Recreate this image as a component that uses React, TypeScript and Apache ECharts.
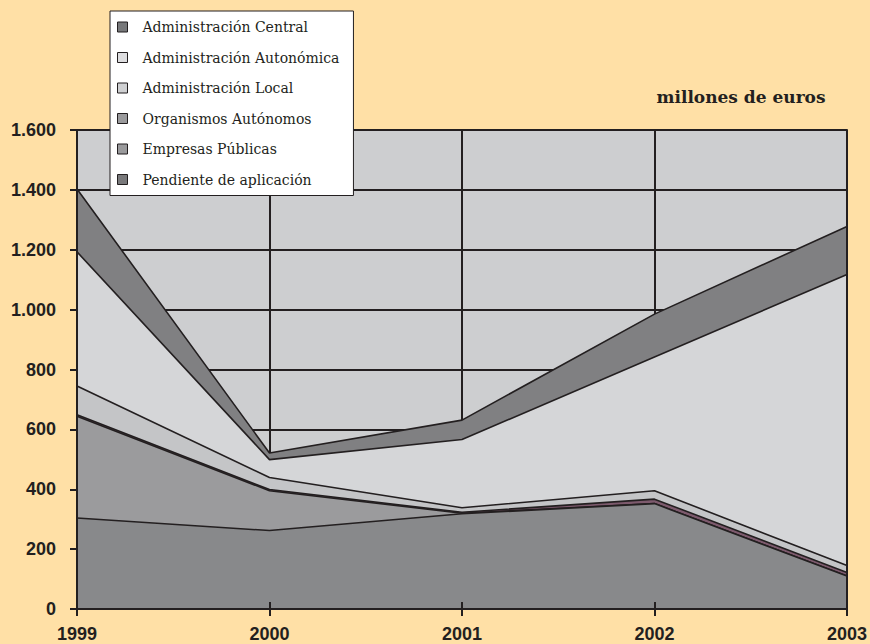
import React, { useEffect, useRef } from "react";
import * as echarts from "echarts";

const years = ["1999", "2000", "2001", "2002", "2003"];
const yTicks = [0, 200, 400, 600, 800, 1000, 1200, 1400, 1600];

// Stack order bottom -> top
const central = [304, 262, 318, 352, 110];
const organismos = [340, 133, 2, 0, 0];
const empresas = [5, 4, 3, 15, 12];
const local = [96, 40, 15, 28, 23];
const autonomica = [448, 60, 228, 447, 972];
const pendiente = [210, 22, 65, 143, 161];

const legendNames = [
  "Administración Central",
  "Administración Autonómica",
  "Administración Local",
  "Organismos Autónomos",
  "Empresas Públicas",
  "Pendiente de aplicación",
];
const legendColors = ["#77787a", "#dddddf", "#cfd0d2", "#9a9a9c", "#9a9a9c", "#79797b"];

const INK = "#231f20";
const BG = "#ffe0a6";

function fmt(v: number): string {
  const s = String(Math.round(v));
  return s.length > 3 ? s.slice(0, s.length - 3) + "." + s.slice(-3) : s;
}

export default function App() {
  const ref = useRef<HTMLDivElement>(null);
  useEffect(() => {
    if (!ref.current) return;
    const chart = echarts.init(ref.current, undefined, { renderer: "svg" });
    const layers = [
      { name: "Administración Central", data: central, color: "#88898b" },
      { name: "Organismos Autónomos", data: organismos, color: "#9b9b9d" },
      { name: "Empresas Públicas", data: empresas, color: "#7d5a6d" },
      { name: "Administración Local", data: local, color: "#c4c5c7" },
      { name: "Administración Autonómica", data: autonomica, color: "#d5d6d8" },
      { name: "Pendiente de aplicación", data: pendiente, color: "#808082" },
    ];
    const axisLabelStyle = {
      color: INK,
      fontFamily: "Liberation Sans, Arial, sans-serif",
      fontWeight: "bold" as const,
      fontSize: 18,
    };
    chart.setOption({
      animation: false,
      backgroundColor: BG,
      grid: {
        left: 77,
        top: 130,
        right: 21,
        bottom: 35,
        show: true,
        backgroundColor: "#cdced0",
        borderWidth: 0,
      },
      legend: {
        show: true,
        orient: "vertical",
        left: 110,
        top: 11,
        z: 30,
        icon: "rect",
        itemWidth: 10,
        itemHeight: 10,
        itemGap: 14.5,
        padding: [8, 14, 8, 7],
        backgroundColor: "#ffffff",
        borderColor: INK,
        borderWidth: 1,
        borderRadius: 0,
        selectedMode: false,
        textStyle: {
          color: INK,
          fontFamily: "DejaVu Serif, serif",
          fontSize: 14,
          lineHeight: 16,
          padding: [0, 0, 0, 10],
        },
        data: legendNames.map((n, i) => ({
          name: n,
          itemStyle: { color: legendColors[i], borderColor: INK, borderWidth: 1 },
        })),
      },
      graphic: [
        {
          type: "text",
          x: 741,
          y: 97,
          z: 30,
          style: {
            text: "millones de euros",
            fill: INK,
            font: "bold 17px 'DejaVu Serif', serif",
            textAlign: "center",
            textVerticalAlign: "middle",
          },
        },
      ],
      xAxis: [
        {
          type: "category",
          data: years,
          boundaryGap: false,
          z: 0,
          axisLine: { show: false },
          axisTick: { show: false },
          axisLabel: { show: false },
          splitLine: { show: true, lineStyle: { color: INK, width: 2 } },
        },
        {
          type: "category",
          data: years,
          boundaryGap: false,
          position: "bottom",
          z: 20,
          axisLine: { show: true, lineStyle: { color: INK, width: 2 } },
          axisTick: { show: true, inside: false, length: 7, lineStyle: { color: INK, width: 2 } },
          axisLabel: { ...axisLabelStyle, margin: 16 },
          splitLine: { show: false },
        },
        {
          type: "category",
          data: years,
          boundaryGap: false,
          position: "bottom",
          z: 20,
          axisLine: { show: false },
          axisTick: { show: true, inside: true, length: 7, lineStyle: { color: INK, width: 2 } },
          axisLabel: { show: false },
          splitLine: { show: false },
        },
      ],
      yAxis: [
        {
          type: "value",
          min: 0,
          max: 1600,
          interval: 200,
          z: 0,
          axisLine: { show: false },
          axisTick: { show: false },
          axisLabel: { show: false },
          splitLine: { show: true, lineStyle: { color: INK, width: 2 } },
        },
        {
          type: "value",
          min: 0,
          max: 1600,
          interval: 200,
          position: "left",
          z: 20,
          axisLine: { show: true, lineStyle: { color: INK, width: 2 } },
          axisTick: { show: true, length: 7, lineStyle: { color: INK, width: 2 } },
          axisLabel: {
            ...axisLabelStyle,
            margin: 21,
            formatter: (v: number) => (yTicks.includes(v) ? fmt(v) : ""),
          },
          splitLine: { show: false },
        },
        {
          type: "value",
          min: 0,
          max: 1600,
          interval: 200,
          position: "right",
          z: 20,
          axisLine: { show: true, onZero: false, lineStyle: { color: INK, width: 2 } },
          axisTick: { show: false },
          axisLabel: { show: false },
          splitLine: { show: false },
        },
      ],
      series: layers.map((l, i) => ({
        type: "line",
        name: l.name,
        stack: "total",
        data: l.data,
        xAxisIndex: 0,
        yAxisIndex: 0,
        z: 10 - i,
        showSymbol: false,
        symbol: "none",
        color: l.color,
        lineStyle: { color: INK, width: 1.6 },
        areaStyle: { color: l.color, opacity: 1 },
        emphasis: { disabled: true },
        silent: true,
      })),
    });
    return () => chart.dispose();
  }, []);
  return (
    <div
      ref={ref}
      style={{ position: "fixed", left: 0, top: 0, width: 870, height: 644, background: BG }}
    />
  );
}
